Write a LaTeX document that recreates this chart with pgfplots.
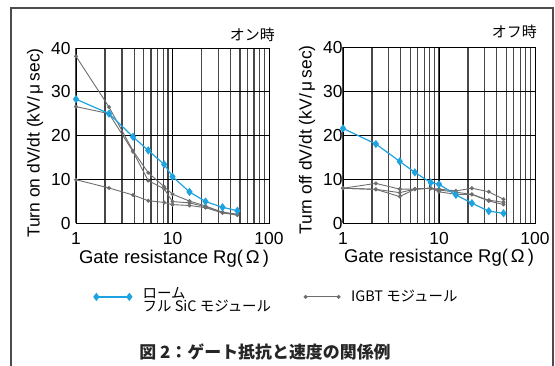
\documentclass[border=0pt]{standalone}
\usepackage{fontspec}
\setmainfont{Liberation Sans}
\newfontfamily\cjk{Noto Sans CJK JP}
\usepackage{pgfplots}
\pgfplotsset{compat=1.18}
\definecolor{rohm}{HTML}{1FA3E0}
\definecolor{igbt}{HTML}{6E6E6E}
\tikzset{
 rohmline/.style={color=rohm, line width=1.2bp, mark=diamond*, mark size=3.2bp, mark options={fill=rohm, draw=rohm, solid}},
 igbtline/.style={color=igbt, line width=0.9bp, mark=*, mark size=1.5bp, mark options={fill=igbt, draw=igbt, solid}},
}
\pgfplotsset{
 legend image code/.code={\draw[mark repeat=1,#1] plot coordinates {(0bp,0bp) (33bp,0bp)};},
}
\begin{document}
\begin{tikzpicture}
\useasboundingbox (0,0) rectangle (555bp,-366bp);
\fill[white] (0,0) rectangle (555bp,-366bp);
\draw[black!70, line width=1.3bp] (11bp,-400bp) -- (11bp,-8bp) -- (553bp,-8bp) -- (553bp,-400bp);

% ---------- left: turn on ----------
\begin{axis}[
  width=193bp, height=175bp, scale only axis, anchor=south west, at={(76bp,-223bp)},
  xmode=log, xmin=1, xmax=100, ymin=0, ymax=40,
  xtick={1,10,100}, xticklabels={1,10,100}, ytick={0,10,20,30,40},
  xmajorgrids, xminorgrids, ymajorgrids,
  major grid style={black, line width=0.9bp},
  minor grid style={black!72, line width=1.2bp},
  tick style={draw=none},
  axis line style={black, line width=0.9bp},
  ticklabel style={font=\fontsize{17.5}{17.5}\selectfont},
  xticklabel style={yshift=-6bp},
  yticklabel style={xshift=-2bp},
  /pgf/number format/assume math mode=true,
  clip=false,
  legend columns=2,
  legend cell align=left,
  legend style={draw=none, fill=none, inner sep=0pt, outer sep=0pt,
    at={(0.093,-0.355)}, anchor=north west,
    font=\fontsize{14.5}{15}\selectfont,
    /tikz/every odd column/.style={column sep=9bp},
    /tikz/every even column/.style={column sep=31bp}},
]
\addlegendimage{rohmline}
\addlegendentry{\begin{tabular}{@{}l@{}}\cjk ローム\\[-2.5bp]\cjk フル SiC モジュール\end{tabular}}
\addlegendimage{igbtline}
\addlegendentry{\cjk IGBT モジュール}
\addplot[igbtline, forget plot] coordinates {(1,38.1) (2.2,26.5) (3.9,16.5) (5.6,11.5) (8.2,8.3) (10,6.6) (15,5.0) (22,3.9) (33,2.4) (47,1.9)};
\addplot[igbtline, forget plot] coordinates {(1,26.6) (2.2,25.0) (3.9,16.3) (5.6,9.7) (8.2,7.8) (10,4.9) (15,4.6) (22,3.7) (33,2.5) (47,2.0)};
\addplot[igbtline, forget plot] coordinates {(1,9.9) (2.2,8.0) (3.9,6.4) (5.6,5.1) (8.2,4.7) (10,4.2) (15,4.0) (22,3.5) (33,2.3) (47,1.8)};
\addplot[rohmline, forget plot] coordinates {(1,28.3) (2.2,25.0) (3.9,19.7) (5.6,16.6) (8.2,13.4) (10,10.6) (15,7.1) (22,4.9) (33,3.6) (47,2.8)};
\end{axis}

% ---------- right: turn off ----------
\begin{axis}[
  width=192bp, height=176bp, scale only axis, anchor=south west, at={(343bp,-223bp)},
  xmode=log, xmin=1, xmax=100, ymin=0, ymax=40,
  xtick={1,10,100}, xticklabels={1,10,100}, ytick={0,10,20,30,40},
  xmajorgrids, xminorgrids, ymajorgrids,
  major grid style={black, line width=0.9bp},
  minor grid style={black!72, line width=1.2bp},
  tick style={draw=none},
  axis line style={black, line width=0.9bp},
  ticklabel style={font=\fontsize{17.5}{17.5}\selectfont},
  xticklabel style={yshift=-5.5bp},
  yticklabel style={xshift=3bp},
  /pgf/number format/assume math mode=true,
  clip=false,
]
\addplot[igbtline] coordinates {(1,7.9) (2.2,9.0) (3.9,7.7) (5.6,7.7) (8.2,7.9) (10,7.7) (15,7.3) (22,7.9) (33,7.1) (47,5.4)};
\addplot[igbtline] coordinates {(1,7.9) (2.2,7.65) (3.9,6.9) (5.6,7.7) (8.2,7.9) (10,7.5) (15,7.0) (22,6.5) (33,5.2) (47,4.7)};
\addplot[igbtline] coordinates {(1,7.9) (2.2,7.65) (3.9,6.0) (5.6,7.7) (8.2,7.9) (10,7.1) (15,6.5) (22,6.5) (33,5.0) (47,4.2)};
\addplot[rohmline] coordinates {(1,21.5) (2.2,17.95) (3.9,14.0) (5.6,11.5) (8.2,9.2) (10,8.8) (15,6.4) (22,4.5) (33,2.7) (47,2.2)};
\end{axis}

% ---------- labels ----------
\node[rotate=90, font=\fontsize{17.5}{17.5}\selectfont] at (35bp,-143bp) {Turn on dV/dt (kV/\,μ\,sec)};
\node[rotate=90, font=\fontsize{17.5}{17.5}\selectfont] at (307bp,-140bp) {Turn off dV/dt (kV/\,μ\,sec)};
\node[font=\fontsize{18.5}{18.5}\selectfont] at (174bp,-259bp) {Gate resistance Rg(\,Ω\,)};
\node[font=\fontsize{18.5}{18.5}\selectfont] at (439bp,-258bp) {Gate resistance Rg(\,Ω\,)};
\node[anchor=east, font=\fontsize{15}{15}\selectfont\cjk, inner sep=0pt] at (275bp,-35bp) {オン時};
\node[anchor=east, font=\fontsize{15}{15}\selectfont\cjk, inner sep=0pt] at (537bp,-32bp) {オフ時};
\node[font=\fontsize{17}{17}\selectfont\cjk\bfseries, black!85] at (265bp,-352bp) {図 2：ゲート抵抗と速度の関係例};
\end{tikzpicture}
\end{document}
